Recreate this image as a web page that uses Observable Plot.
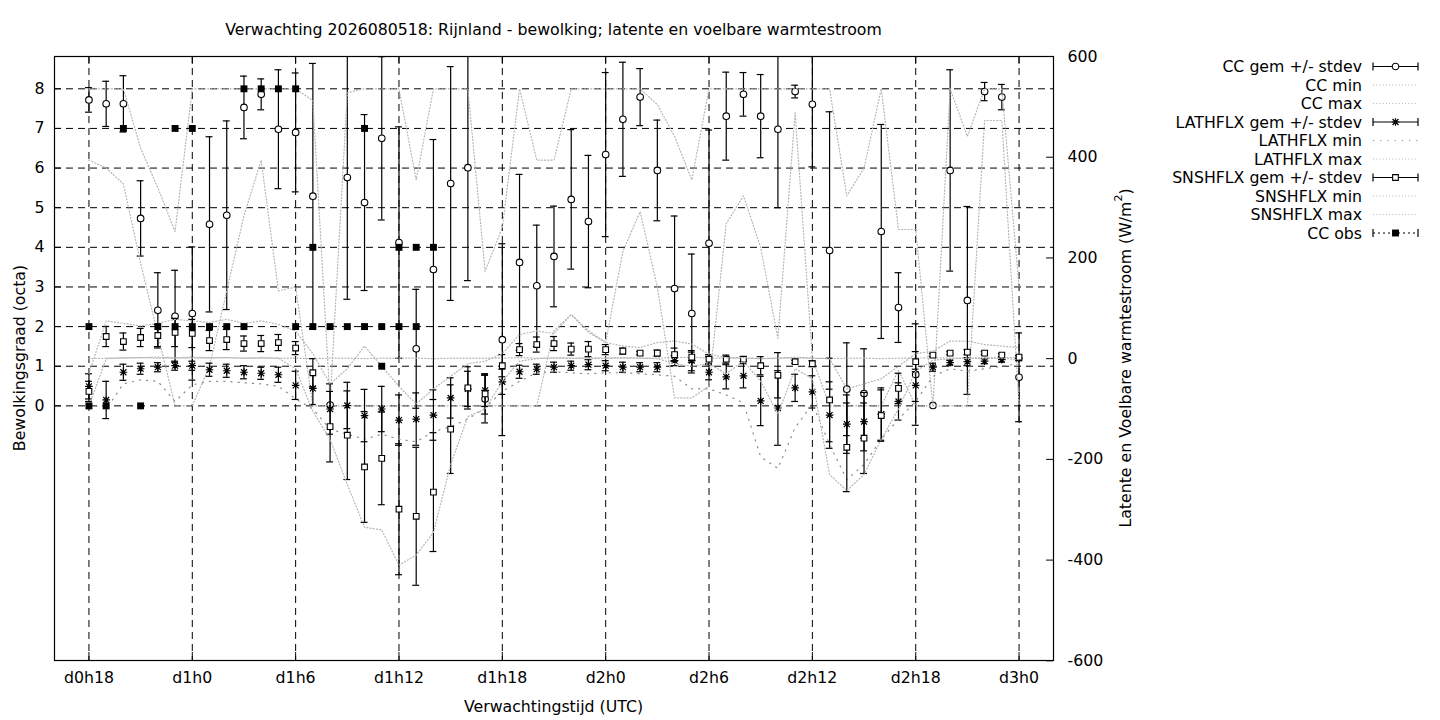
<!DOCTYPE html>
<html><head><meta charset="utf-8">
<script src="https://cdn.jsdelivr.net/npm/d3@7"></script>
<script src="https://cdn.jsdelivr.net/npm/@observablehq/plot@0.6"></script>
<style>body{margin:0;background:#fff;} svg{display:block;}</style>
</head><body><div id="chart"></div>
<script>
// ---------- data ----------
const hours = [18,19,20,21,22,23,24,25,26,27,28,29,30,31,32,33,34,35,36,37,38,39,40,41,42,43,44,45,46,47,48,49,50,51,52,53,54,55,56,57,58,59,60,61,62,63,64,65,66,67,68,69,70,71,72];
const tickHours = [18,24,30,36,42,48,54,60,66,72];
const tickLabels = ["d0h18","d1h0","d1h6","d1h12","d1h18","d2h0","d2h6","d2h12","d2h18","d3h0"];
const leftTicks = [0,1,2,3,4,5,6,7,8];
const rightTicks = [-600,-400,-200,0,200,400,600];

const ccMean = [7.72,7.62,7.62,4.73,2.41,2.26, 2.33,4.58,4.81,7.53,7.86,6.98, 6.90,5.29,0.02,5.76,5.13,6.75, 4.12,1.44,3.44,5.61,6.01,0.17, 1.67,3.62,3.03,3.77,5.21,4.65, 6.34,7.23,7.79,5.94,2.96,2.33, 4.10,7.31,7.86,7.31,6.98,7.93, 7.61,3.92,0.42,0.31,4.40,2.48, 0.79,0.01,5.94,2.66,7.93,7.79, 0.72];
const ccSd   = [0.31,0.57,0.71,0.95,0.95,1.16, 1.68,2.21,2.38,0.79,0.39,1.50, 1.50,3.35,0,3.07,2.22,2.06, 2.92,1.50,3.28,2.95,2.85,0.60, 2.42,2.22,1.53,1.27,1.76,1.67, 2.07,1.44,0.72,1.27,1.83,1.50, 2.86,1.11,0.55,1.05,1.98,0.16, 1.58,3.50,1.17,1.13,2.70,0.88, 1.28,0,2.54,2.37,0.23,0.32, 1.12];
const ccMin  = [6.2,6.0,5.6,3.6,1.8,0, 0,1.0,2.9,4.8,6.2,2.9, 3.0,0,0,0,0,0, 0,0,0,0,0,0, 0,0,0,1.9,2.3,1.9, 1.6,3.9,4.9,3.0,0.2,0.2, 0.5,4.6,5.3,4.0,1.7,7.4, 1.2,0,0,0,0,0.9, 0,0,0,0,7.2,7.2, 0];
const ccMax  = [8,8,8,6.5,5.5,4.4, 8,8,8,8,8,8, 8,7.7,0.1,7.9,8,8, 8,5.7,8,8,8,3.4, 4.5,8,6.2,6.2,8,8, 8,8,8,7.6,6.8,5.7, 8,8,8,8,8,8, 8,8,5.3,6.0,8,4.45, 4.45,0,8,6.8,8,8, 3];

const lhMean = [-55,-82,-27,-20,-17,-14, -14,-22,-24,-27,-29,-32, -53,-59,-100,-93,-113,-100, -122,-120,-112,-78,-60,-63, -46,-26,-21,-17,-14,-12, -14,-17,-17,-17,-4,-4, -27,-36,-34,-84,-98,-58, -66,-112,-130,-125,-110,-85, -53,-17,-8,-6,-5,-2, 1];
const lhSd   = [25,37,16,11,9,9, 9,13,13,13,12,15, 28,32,50,46,52,45, 50,52,50,40,35,32, 25,13,10,10,9,10, 10,10,9,9,10,20, 15,24,24,49,74,27, 32,66,58,58,52,37, 32,8,5,8,5,5, 5];
const lhMin  = [-90,-100,-50,-42,-45,-85, -52,-45,-45,-48,-50,-55, -80,-100,-140,-150,-160,-150, -160,-165,-145,-135,-120,-98, -65,-45,-28,-26,-28,-30, -28,-28,-30,-32,-35,-60, -60,-72,-88,-195,-218,-137, -90,-170,-240,-210,-160,-120, -85,-35,-20,-25,-20,-15, -10];
const lhMax  = [0,1,1,2,1,1, 1,1,2,1,1,1, 1,0,1,1,0,1, 1,1,0,1,1,1, 1,2,1,1,1,2, 1,1,1,1,2,3, 1,1,1,0,1,1, 1,0,1,1,0,1, 1,2,1,1,2,2, 2];

const shMean = [-65,44,34,42,46,52, 50,36,38,30,30,32, 21,-28,-135,-152,-215,-198, -299,-313,-265,-140,-58,-70, -14,18,28,30,19,19, 18,15,11,11,8,3, -1,-1,-1,-14,-33,-6, -10,-82,-176,-158,-113,-59, -6,7,11,13,11,7, 3];
const shSd   = [20,20,17,18,22,28, 28,20,20,15,16,16, 13,28,70,88,110,92, 130,137,118,88,42,40, 22,12,15,14,12,15, 10,6,3,6,13,10, 9,8,5,18,45,3, 6,83,88,70,51,30, 20,3,3,5,3,3, 3];
const shMin  = [-95,0,2,2,3,2, 3,2,2,1,2,1, -20,-105,-160,-250,-335,-340, -410,-390,-345,-210,-115,-100, -45,-5,0,2,1,0, 1,2,1,0,-10,-15, -10,-30,-5,-45,-110,-20, -40,-230,-262,-230,-160,-100, -25,-3,0,1,0,1, -2];
const shMax  = [-30,75,70,65,70,78, 75,72,78,70,75,68, 55,10,-50,-20,25,-15, -55,-90,-60,-35,-10,-5, 10,48,55,50,88,52, 32,25,22,32,35,29, 9,2,2,0,1,3, 1,0,-60,-50,-40,-15, 10,15,35,35,28,25, 22];

const obsHours  = [18,18,19,20,21,22,23,23,24,24,25,26,27,27,28,29,30,30,31,31,32,33,34,34,35,35,36,36,37,37,38];
const obsValues = [2,0,0,7,0,2,7,2,7,2,2,2,8,2,8,8,8,2,4,2,2,2,7,2,2,1,4,2,4,2,4];

// ---------- geometry of the two y axes ----------
const Y_DOMAIN = [-6.425, 8.815];          // octa (left axis)
const W_ZERO = 1.191;                       // octa position of 0 W/m2
const W_K = (Y_DOMAIN[1] - W_ZERO) / 600;   // octa per W/m2 (right axis spans -600..600)
const w2y = w => W_ZERO + w * W_K;
const ident = v => v;

const FONT = "DejaVu Sans, sans-serif";
const FS = 15.75;
const GREY = "#b4b4b4";

const asterisk = {
  draw(ctx, size) {
    const r = Math.sqrt(size / Math.PI), d = r * 0.78;
    ctx.moveTo(-r, 0); ctx.lineTo(r, 0);
    ctx.moveTo(0, -r); ctx.lineTo(0, r);
    ctx.moveTo(-d, -d); ctx.lineTo(d, d);
    ctx.moveTo(-d, d); ctx.lineTo(d, -d);
  }
};

function errMarks(mean, sd, conv, dotOpts) {
  const rows = hours.map((h, i) => ({h, m: mean[i], s: sd[i]}));
  const bars = rows.filter(d => d.s > 0);
  const hiV = d => conv(d.m + d.s), loV = d => conv(d.m - d.s);
  const cap = 0.2;
  return [
    Plot.ruleX(bars, {x: "h", y1: d => Math.max(loV(d), Y_DOMAIN[0]), y2: d => Math.min(hiV(d), Y_DOMAIN[1]), stroke: "black", strokeWidth: 1.2}),
    Plot.ruleY(bars.filter(d => hiV(d) <= Y_DOMAIN[1]), {y: hiV, x1: d => d.h - cap, x2: d => d.h + cap, stroke: "black", strokeWidth: 1.2}),
    Plot.ruleY(bars.filter(d => loV(d) >= Y_DOMAIN[0]), {y: loV, x1: d => d.h - cap, x2: d => d.h + cap, stroke: "black", strokeWidth: 1.2}),
    Plot.dot(rows, {x: "h", y: d => conv(d.m), ...dotOpts})
  ];
}
function rangeLine(arr, conv, opts) {
  const rows = hours.map((h, i) => ({h, v: arr[i]}));
  return Plot.line(rows, {x: "h", y: d => conv(d.v), strokeWidth: 1.2, ...opts});
}
const fineDots = {stroke: GREY, strokeDasharray: "1,2.2"};
const sparseDots = {stroke: "#8c8c8c", strokeDasharray: "1.2,6"};

const obs = obsHours.map((h, i) => ({h, v: obsValues[i]}));

const plot = Plot.plot({
  width: 1440, height: 720,
  marginLeft: 54, marginRight: 387, marginTop: 56, marginBottom: 60,
  x: {domain: [16, 74]},
  y: {domain: Y_DOMAIN},
  style: {fontFamily: FONT, fontSize: FS + "px", background: "white", color: "black"},
  marks: [
    // grid
    Plot.ruleY(leftTicks, {y: d => d, stroke: "black", strokeWidth: 1, strokeDasharray: "7,5"}),
    Plot.ruleX(tickHours, {x: d => d, stroke: "black", strokeWidth: 1, strokeDasharray: "7,5"}),
    // inward ticks on the right (y2) axis
    Plot.ruleY(rightTicks, {y: w2y, x1: 74 - 0.4, x2: 74, stroke: "black", strokeWidth: 1}),
    Plot.ruleY(leftTicks, {y: d => d, x1: 16, x2: 16.4, stroke: "black", strokeWidth: 1}),
    Plot.ruleX(tickHours, {x: d => d, y1: Y_DOMAIN[0], y2: Y_DOMAIN[0] + 0.2, stroke: "black", strokeWidth: 1}),
    Plot.ruleX(tickHours, {x: d => d, y1: Y_DOMAIN[1] - 0.2, y2: Y_DOMAIN[1], stroke: "black", strokeWidth: 1}),
    // axes
    Plot.axisX({ticks: tickHours, tickFormat: d => tickLabels[tickHours.indexOf(d)], tickSize: 0, tickPadding: 11, fontSize: FS, label: null}),
    Plot.axisY({ticks: leftTicks, tickSize: 0, tickPadding: 10, fontSize: FS, label: null, tickFormat: d => String(d)}),
    Plot.axisY({anchor: "right", ticks: rightTicks.map(w2y), tickFormat: y => String(Math.round((y - W_ZERO) / W_K)), tickSize: 0, tickPadding: 14, fontSize: FS, label: null}),
    // CC
    ...errMarks(ccMean, ccSd, ident, {symbol: "circle", r: 3.3, fill: "white", stroke: "black", strokeWidth: 1.1}),
    rangeLine(ccMin, ident, fineDots),
    rangeLine(ccMax, ident, fineDots),
    // LATHFLX
    ...errMarks(lhMean, lhSd, w2y, {symbol: asterisk, r: 3.8, fill: "none", stroke: "black", strokeWidth: 1.2}),
    rangeLine(lhMin, w2y, sparseDots),
    rangeLine(lhMax, w2y, fineDots),
    // SNSHFLX
    ...errMarks(shMean, shSd, w2y, {symbol: "square", r: 3.2, fill: "white", stroke: "black", strokeWidth: 1.1}),
    rangeLine(shMin, w2y, fineDots),
    rangeLine(shMax, w2y, fineDots),
    // CC obs
    Plot.dot(obs, {x: "h", y: "v", symbol: "square", r: 3.9, fill: "black", stroke: "none"}),
    Plot.frame({stroke: "black", strokeWidth: 1.2})
  ]
});
document.getElementById("chart").appendChild(plot);

// ---------- titles, axis labels, legend ----------
const svg = d3.select(plot);
const txt = svg.append("g").attr("font-family", FONT).attr("font-size", FS).attr("fill", "black");
txt.append("text").attr("x", 553.5).attr("y", 29).attr("dy", "0.35em").attr("text-anchor", "middle")
  .text("Verwachting 2026080518: Rijnland - bewolking; latente en voelbare warmtestroom");
txt.append("text").attr("x", 553.5).attr("y", 706).attr("dy", "0.35em").attr("text-anchor", "middle")
  .text("Verwachtingstijd (UTC)");
txt.append("text").attr("transform", "translate(19,358) rotate(-90)").attr("dy", "0.35em").attr("text-anchor", "middle")
  .text("Bewolkingsgraad (octa)");
const rl = txt.append("text").attr("transform", "translate(1125,358) rotate(-90)").attr("dy", "0.35em").attr("text-anchor", "middle");
rl.append("tspan").text("Latente en Voelbare warmtestroom (W/m");
rl.append("tspan").attr("font-size", FS * 0.7).attr("dy", "-0.75em").text("2");
rl.append("tspan").attr("dy", "0.55em").text(")");

const legend = [
  {label: "CC gem +/- stdev", kind: "err", sym: d3.symbolCircle, r: 3.3, fill: "white"},
  {label: "CC min", kind: "line", style: fineDots},
  {label: "CC max", kind: "line", style: fineDots},
  {label: "LATHFLX gem +/- stdev", kind: "err", sym: asterisk, r: 3.8, fill: "none"},
  {label: "LATHFLX min", kind: "line", style: sparseDots},
  {label: "LATHFLX max", kind: "line", style: fineDots},
  {label: "SNSHFLX gem +/- stdev", kind: "err", sym: d3.symbolSquare, r: 3.2, fill: "white"},
  {label: "SNSHFLX min", kind: "line", style: fineDots},
  {label: "SNSHFLX max", kind: "line", style: fineDots},
  {label: "CC obs", kind: "obs", sym: d3.symbolSquare, r: 3.9, fill: "black"}
];
const lg = svg.append("g").attr("font-family", FONT).attr("font-size", FS);
const LX0 = 1373, LX1 = 1418, LTX = 1362;
legend.forEach((e, i) => {
  const y = 66.5 + i * 18.5;
  lg.append("text").attr("x", LTX).attr("y", y).attr("dy", "0.35em").attr("text-anchor", "end").text(e.label);
  if (e.kind === "line") {
    lg.append("line").attr("x1", LX0).attr("x2", LX1).attr("y1", y).attr("y2", y)
      .attr("stroke", e.style.stroke).attr("stroke-dasharray", e.style.strokeDasharray).attr("stroke-width", 1.2);
  } else {
    const obsK = e.kind === "obs";
    lg.append("line").attr("x1", LX0).attr("x2", LX1).attr("y1", y).attr("y2", y)
      .attr("stroke", "black").attr("stroke-width", 1.2).attr("stroke-dasharray", obsK ? "2,3" : null);
    [LX0, LX1].forEach(x => lg.append("line").attr("x1", x).attr("x2", x).attr("y1", y - 4).attr("y2", y + 4)
      .attr("stroke", "black").attr("stroke-width", 1.2));
    lg.append("path").attr("transform", `translate(${(LX0 + LX1) / 2},${y})`)
      .attr("d", d3.symbol(e.sym, e.r * e.r * Math.PI)())
      .attr("fill", e.fill).attr("stroke", obsK ? "none" : "black").attr("stroke-width", e.fill === "none" ? 1.2 : 1.1);
  }
});
</script>
</body></html>
